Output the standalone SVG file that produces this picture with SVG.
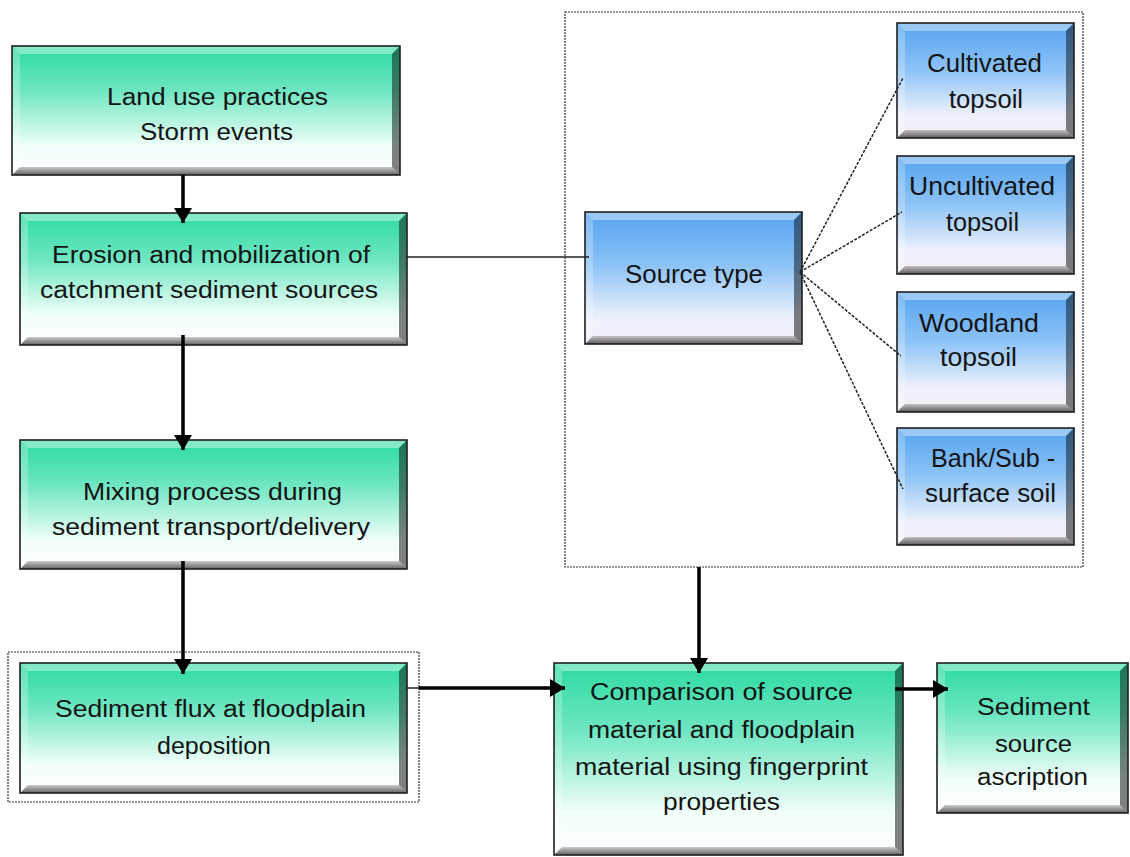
<svg xmlns="http://www.w3.org/2000/svg" width="1130" height="857" viewBox="0 0 1130 857">
<defs>
<linearGradient id="gGreen" x1="0" y1="0" x2="0" y2="1">
<stop offset="0" stop-color="#2cdaa2"/>
<stop offset="0.35" stop-color="#6ee6c1"/>
<stop offset="0.78" stop-color="#f2fffa"/>
<stop offset="1" stop-color="#ffffff"/>
</linearGradient>
<linearGradient id="gBlue" x1="0" y1="0" x2="0" y2="1">
<stop offset="0" stop-color="#55a3f0"/>
<stop offset="0.4" stop-color="#8bc2f6"/>
<stop offset="0.8" stop-color="#edf1fd"/>
<stop offset="1" stop-color="#f6eef6"/>
</linearGradient>
<linearGradient id="gBot" x1="0" y1="0" x2="0" y2="1">
<stop offset="0" stop-color="#000" stop-opacity="0.2"/>
<stop offset="1" stop-color="#000" stop-opacity="0.62"/>
</linearGradient>
<linearGradient id="gRight" x1="0" y1="0" x2="0" y2="1">
<stop offset="0" stop-color="#000" stop-opacity="0.45"/>
<stop offset="1" stop-color="#000" stop-opacity="0.5"/>
</linearGradient>
<marker id="ah" markerUnits="userSpaceOnUse" viewBox="0 0 15 18" refX="15" refY="9" markerWidth="15" markerHeight="18" orient="auto">
<path d="M0,0 L15,9 L0,18 z" fill="#000"/>
</marker>
</defs>
<style>
.green{fill:url(#gGreen)}
.blue{fill:url(#gBlue)}
.bt{fill:#fff;fill-opacity:0.4}
.bl{fill:#fff;fill-opacity:0.25}
.br{fill:url(#gRight)}
.bb{fill:url(#gBot)}
.edge{fill:none;stroke:#1e1e1e;stroke-width:1.6}
.t{font-family:"Liberation Sans",Arial,sans-serif;fill:#141414;text-anchor:middle}
.tg{font-size:23px}
.tb{font-size:25px}
.arrow{stroke:#000;stroke-width:3.5;fill:none;marker-end:url(#ah)}
.thin{stroke:#222;stroke-width:1.5;fill:none}
.fan{stroke:#222;stroke-width:1.5;fill:none;stroke-dasharray:3 1.5}
.dots{fill:none;stroke:#333;stroke-width:1.2;stroke-dasharray:2 1}
</style>
<rect width="1130" height="857" fill="#fff"/>

<g id="sourceGroup">
<rect class="dots" x="565" y="12" width="518" height="555"/>
</g>
<g id="fluxFrame">
<rect class="dots" x="8" y="652" width="411" height="150"/>
</g>

<g id="landUse">
<rect class="green" x="12" y="46" width="388" height="129"/>
<polygon class="bt" points="12,46 400,46 392,54 20,54"/>
<polygon class="bl" points="12,46 20,54 20,167 12,175"/>
<polygon class="br" points="400,46 400,175 392,167 392,54"/>
<polygon class="bb" points="12,175 400,175 392,167 20,167"/>
<rect class="edge" x="12" y="46" width="388" height="129"/>
<text class="t tg" x="217.5" y="105" textLength="221" lengthAdjust="spacingAndGlyphs">Land use practices</text>
<text class="t tg" x="216.5" y="140" textLength="153" lengthAdjust="spacingAndGlyphs">Storm events</text>
</g>

<g id="erosion">
<rect class="green" x="20" y="213" width="387" height="132"/>
<polygon class="bt" points="20,213 407,213 399,221 28,221"/>
<polygon class="bl" points="20,213 28,221 28,337 20,345"/>
<polygon class="br" points="407,213 407,345 399,337 399,221"/>
<polygon class="bb" points="20,345 407,345 399,337 28,337"/>
<rect class="edge" x="20" y="213" width="387" height="132"/>
<text class="t tg" x="211" y="263" textLength="318" lengthAdjust="spacingAndGlyphs">Erosion and mobilization of</text>
<text class="t tg" x="209" y="298" textLength="338" lengthAdjust="spacingAndGlyphs">catchment sediment sources</text>
</g>

<g id="mixing">
<rect class="green" x="20" y="440" width="387" height="129"/>
<polygon class="bt" points="20,440 407,440 399,448 28,448"/>
<polygon class="bl" points="20,440 28,448 28,561 20,569"/>
<polygon class="br" points="407,440 407,569 399,561 399,448"/>
<polygon class="bb" points="20,569 407,569 399,561 28,561"/>
<rect class="edge" x="20" y="440" width="387" height="129"/>
<text class="t tg" x="212.5" y="500" textLength="259" lengthAdjust="spacingAndGlyphs">Mixing process during</text>
<text class="t tg" x="211" y="535" textLength="318" lengthAdjust="spacingAndGlyphs">sediment transport/delivery</text>
</g>

<g id="flux">
<rect class="green" x="20" y="663" width="387" height="130"/>
<polygon class="bt" points="20,663 407,663 399,671 28,671"/>
<polygon class="bl" points="20,663 28,671 28,785 20,793"/>
<polygon class="br" points="407,663 407,793 399,785 399,671"/>
<polygon class="bb" points="20,793 407,793 399,785 28,785"/>
<rect class="edge" x="20" y="663" width="387" height="130"/>
<text class="t tg" x="210.5" y="717" textLength="311" lengthAdjust="spacingAndGlyphs">Sediment flux at floodplain</text>
<text class="t tg" x="214" y="754" textLength="114" lengthAdjust="spacingAndGlyphs">deposition</text>
</g>

<g id="sourceType">
<rect class="blue" x="585" y="212" width="217" height="132"/>
<polygon class="bt" points="585,212 802,212 794,220 593,220"/>
<polygon class="bl" points="585,212 593,220 593,336 585,344"/>
<polygon class="br" points="802,212 802,344 794,336 794,220"/>
<polygon class="bb" points="585,344 802,344 794,336 593,336"/>
<rect class="edge" x="585" y="212" width="217" height="132"/>
<text class="t tb" x="694" y="283" textLength="138" lengthAdjust="spacingAndGlyphs">Source type</text>
</g>

<g id="cultivated">
<rect class="blue" x="897" y="23" width="177" height="115"/>
<polygon class="bt" points="897,23 1074,23 1066,31 905,31"/>
<polygon class="bl" points="897,23 905,31 905,130 897,138"/>
<polygon class="br" points="1074,23 1074,138 1066,130 1066,31"/>
<polygon class="bb" points="897,138 1074,138 1066,130 905,130"/>
<rect class="edge" x="897" y="23" width="177" height="115"/>
<text class="t tb" x="984.5" y="72" textLength="115" lengthAdjust="spacingAndGlyphs">Cultivated</text>
<text class="t tb" x="986" y="108" textLength="74" lengthAdjust="spacingAndGlyphs">topsoil</text>
</g>

<g id="uncultivated">
<rect class="blue" x="897" y="156" width="177" height="118"/>
<polygon class="bt" points="897,156 1074,156 1066,164 905,164"/>
<polygon class="bl" points="897,156 905,164 905,266 897,274"/>
<polygon class="br" points="1074,156 1074,274 1066,266 1066,164"/>
<polygon class="bb" points="897,274 1074,274 1066,266 905,266"/>
<rect class="edge" x="897" y="156" width="177" height="118"/>
<text class="t tb" x="982" y="195" textLength="146" lengthAdjust="spacingAndGlyphs">Uncultivated</text>
<text class="t tb" x="982.5" y="231" textLength="73" lengthAdjust="spacingAndGlyphs">topsoil</text>
</g>

<g id="woodland">
<rect class="blue" x="897" y="292" width="177" height="120"/>
<polygon class="bt" points="897,292 1074,292 1066,300 905,300"/>
<polygon class="bl" points="897,292 905,300 905,404 897,412"/>
<polygon class="br" points="1074,292 1074,412 1066,404 1066,300"/>
<polygon class="bb" points="897,412 1074,412 1066,404 905,404"/>
<rect class="edge" x="897" y="292" width="177" height="120"/>
<text class="t tb" x="979" y="332" textLength="120" lengthAdjust="spacingAndGlyphs">Woodland</text>
<text class="t tb" x="978.5" y="366" textLength="77" lengthAdjust="spacingAndGlyphs">topsoil</text>
</g>

<g id="bank">
<rect class="blue" x="897" y="428" width="177" height="117"/>
<polygon class="bt" points="897,428 1074,428 1066,436 905,436"/>
<polygon class="bl" points="897,428 905,436 905,537 897,545"/>
<polygon class="br" points="1074,428 1074,545 1066,537 1066,436"/>
<polygon class="bb" points="897,545 1074,545 1066,537 905,537"/>
<rect class="edge" x="897" y="428" width="177" height="117"/>
<text class="t tb" x="993" y="467" textLength="124" lengthAdjust="spacingAndGlyphs">Bank/Sub -</text>
<text class="t tb" x="990.5" y="502" textLength="131" lengthAdjust="spacingAndGlyphs">surface soil</text>
</g>

<g id="comparison">
<rect class="green" x="554" y="663" width="349" height="192"/>
<polygon class="bt" points="554,663 903,663 895,671 562,671"/>
<polygon class="bl" points="554,663 562,671 562,847 554,855"/>
<polygon class="br" points="903,663 903,855 895,847 895,671"/>
<polygon class="bb" points="554,855 903,855 895,847 562,847"/>
<rect class="edge" x="554" y="663" width="349" height="192"/>
<text class="t tg" x="721.5" y="700" textLength="263" lengthAdjust="spacingAndGlyphs">Comparison of source</text>
<text class="t tg" x="721.5" y="738" textLength="267" lengthAdjust="spacingAndGlyphs">material and floodplain</text>
<text class="t tg" x="721.5" y="775" textLength="293" lengthAdjust="spacingAndGlyphs">material using fingerprint</text>
<text class="t tg" x="721.5" y="810" textLength="117" lengthAdjust="spacingAndGlyphs">properties</text>
</g>

<g id="ascription">
<rect class="green" x="937" y="663" width="191" height="150"/>
<polygon class="bt" points="937,663 1128,663 1120,671 945,671"/>
<polygon class="bl" points="937,663 945,671 945,805 937,813"/>
<polygon class="br" points="1128,663 1128,813 1120,805 1120,671"/>
<polygon class="bb" points="937,813 1128,813 1120,805 945,805"/>
<rect class="edge" x="937" y="663" width="191" height="150"/>
<text class="t tg" x="1033.5" y="715" textLength="113" lengthAdjust="spacingAndGlyphs">Sediment</text>
<text class="t tg" x="1033.5" y="752" textLength="77" lengthAdjust="spacingAndGlyphs">source</text>
<text class="t tg" x="1032.5" y="785" textLength="111" lengthAdjust="spacingAndGlyphs">ascription</text>
</g>

<g id="connectors">
<line class="arrow" x1="183" y1="175" x2="183" y2="223"/>
<line class="arrow" x1="183" y1="335" x2="183" y2="450"/>
<line class="arrow" x1="183" y1="561" x2="183" y2="674"/>
<line class="thin" x1="406" y1="688" x2="420" y2="688"/>
<line class="arrow" x1="419" y1="688" x2="565" y2="688"/>
<line class="arrow" x1="699" y1="567" x2="699" y2="673"/>
<line class="arrow" x1="895" y1="689" x2="948" y2="689"/>
<line class="thin" x1="406" y1="257" x2="589" y2="257"/>
<line class="fan" x1="800" y1="272" x2="903" y2="78"/>
<line class="fan" x1="800" y1="272" x2="902" y2="212"/>
<line class="fan" x1="800" y1="272" x2="901" y2="356"/>
<line class="fan" x1="800" y1="272" x2="903" y2="489"/>
</g>
</svg>
